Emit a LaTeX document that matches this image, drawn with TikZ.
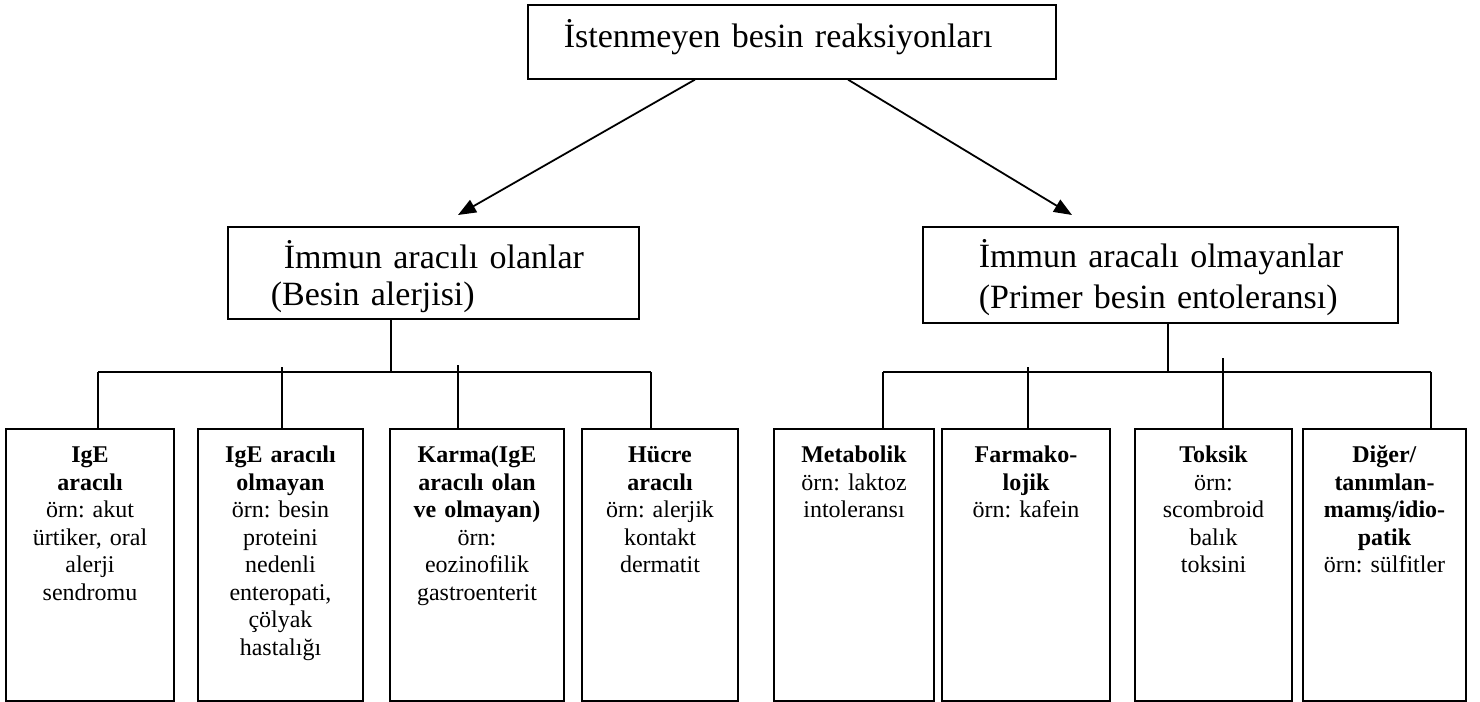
\documentclass[tikz,border=0pt]{standalone}
\usepackage{fontspec}
\setmainfont{Liberation Serif}
\usetikzlibrary{arrows.meta}
\frenchspacing
\begin{document}
\begin{tikzpicture}[x=0.5pt,y=-0.5pt,
    head/.style={draw,line width=0.8pt,inner sep=0pt,anchor=north west,align=left,
      font=\fontsize{17}{18.5}\selectfont},
    leaf/.style={draw,line width=0.8pt,inner sep=0pt,anchor=north,align=center,
      text height=17pt,text depth=119pt,font=\fontsize{12}{13.75}\selectfont},
    link/.style={line width=0.6pt}]
  \useasboundingbox (0,0) rectangle (1480,702);
  % upper boxes
  \node[head,text width=264pt,text height=21.5pt,text depth=15.5pt] (top) at (527,4)
    {\hspace*{18pt}İstenmeyen besin reaksiyonları};
  \node[head,text width=205.5pt,text height=21pt,text depth=25pt] (imm) at (227,226)
    {\hspace*{28pt}İmmun aracılı olanlar\\\hspace*{21.5pt}(Besin alerjisi)};
  \node[head,text width=237.5pt,text height=20.5pt,text depth=27.5pt] (nonimm) at (922,226)
    {\hspace*{28pt}İmmun aracalı olmayanlar\\[2pt]\hspace*{28pt}(Primer besin entoleransı)};
  % lower boxes
  \node[leaf,text width=84pt] (l1) at (90,428)
    {\textbf{IgE}\\\textbf{aracılı}\\örn: akut\\ürtiker, oral\\alerji\\sendromu};
  \node[leaf,text width=82.5pt] (l2) at (280.5,428)
    {\textbf{IgE aracılı}\\\textbf{olmayan}\\örn: besin\\proteini\\nedenli\\enteropati,\\çölyak\\hastalığı};
  \node[leaf,text width=87pt] (l3) at (477,428)
    {\textbf{Karma(IgE}\\\textbf{aracılı olan}\\\textbf{ve olmayan)}\\örn:\\eozinofilik\\gastroenterit};
  \node[leaf,text width=78pt] (l4) at (660,428)
    {\textbf{Hücre}\\\textbf{aracılı}\\örn: alerjik\\kontakt\\dermatit};
  \node[leaf,text width=80pt] (r1) at (854,428)
    {\textbf{Metabolik}\\örn: laktoz\\intoleransı};
  \node[leaf,text width=84pt] (r2) at (1026,428)
    {\textbf{Farmako-}\\\textbf{lojik}\\örn: kafein};
  \node[leaf,text width=78.5pt] (r3) at (1213.5,428)
    {\textbf{Toksik}\\örn:\\scombroid\\balık\\toksini};
  \node[leaf,text width=81.5pt] (r4) at (1384.5,428)
    {\textbf{Diğer/}\\\textbf{tanımlan-}\\\textbf{mamış/idio-}\\\textbf{patik}\\örn: sülfitler};
  % arrows
  \coordinate (ltip) at (458,215);
  \coordinate (rtip) at (1072,215);
  \draw[line width=0.9pt,-{Triangle[length=9pt,width=7pt]}] (top.south -| 695,0) -- (ltip);
  \draw[line width=0.9pt,-{Triangle[length=9pt,width=7pt]}] (top.south -| 848,0) -- (rtip);
  % tree lines
  \draw[link] (imm.south -| 391,0) -- (391,372);
  \draw[link] (nonimm.south -| 1168,0) -- (1168,372);
  \draw[link] (98,372) -- (651,372);
  \draw[link] (883,372) -- (1431,372);
  \foreach \n/\x/\y in {l1/98/372,l2/282/367,l3/458/365,l4/651/372,
                        r1/883/372,r2/1028/367,r3/1223/358,r4/1431/372}
    \draw[link] (\x,\y) -- (\x,\y |- \n.north);
\end{tikzpicture}
\end{document}
